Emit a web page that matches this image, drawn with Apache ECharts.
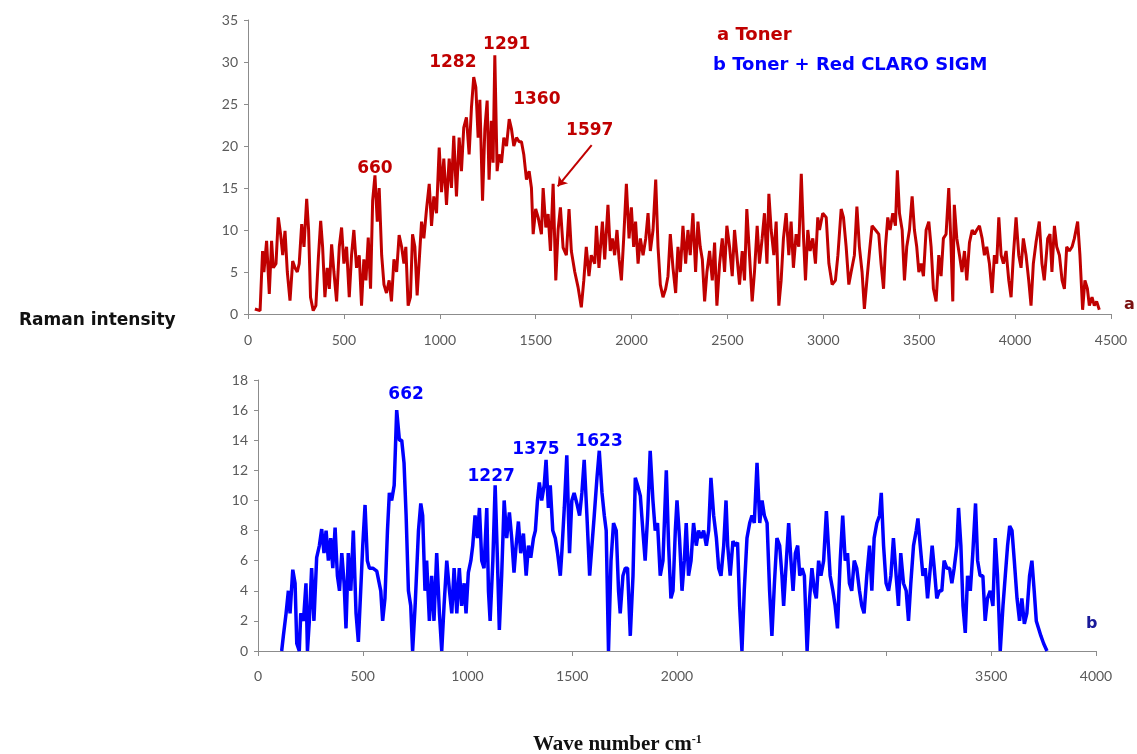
<!DOCTYPE html>
<html>
<head>
<meta charset="utf-8">
<script src="https://cdn.jsdelivr.net/npm/echarts@6/dist/echarts.min.js"></script>
<style>
  html, body { margin: 0; padding: 0; background: #fff; }
  #chart { width: 1137px; height: 754px; }
</style>
</head>
<body>
<div id="chart"></div>
<script>
// spectrum a (Toner)
const redX = [36, 63, 76, 83, 97, 111, 123, 132, 146, 158, 170, 181, 193, 205, 219, 233, 245, 257, 267, 280, 292, 306, 316, 326, 340, 354, 367, 379, 389, 401, 413, 424, 436, 448, 462, 476, 488, 500, 514, 528, 540, 552, 566, 580, 592, 604, 615, 627, 639, 650, 662, 674, 684, 697, 709, 722, 736, 748, 761, 775, 788, 801, 813, 823, 835, 847, 858, 870, 882, 905, 917, 931, 945, 957, 969, 983, 997, 1009, 1021, 1035, 1049, 1061, 1073, 1087, 1101, 1113, 1125, 1139, 1153, 1165, 1177, 1188, 1200, 1209, 1223, 1235, 1247, 1257, 1269, 1278, 1287, 1299, 1309, 1322, 1334, 1348, 1362, 1374, 1386, 1400, 1414, 1426, 1438, 1452, 1466, 1478, 1487, 1500, 1513,
  1530, 1539, 1553, 1565, 1577, 1591, 1605, 1617, 1629, 1643, 1660, 1674, 1686, 1704, 1721, 1738, 1751, 1764, 1778, 1790, 1808, 1817, 1830, 1848, 1860, 1877, 1889, 1900, 1912, 1924, 1935, 1947, 1959, 1973, 1987, 1999, 2011, 2021, 2034, 2046, 2060, 2074, 2086, 2098, 2112, 2126, 2138, 2150, 2164, 2178, 2190, 2202, 2216, 2230, 2242, 2254, 2268, 2282, 2294, 2306, 2320, 2334, 2346, 2358, 2369, 2381, 2393, 2407, 2421, 2433, 2445, 2459, 2473, 2485, 2497, 2511, 2525, 2537, 2549, 2563, 2577, 2589, 2601, 2615, 2629, 2641, 2655, 2667, 2681, 2693, 2706, 2716, 2728, 2742, 2754, 2768, 2780, 2792, 2806, 2820, 2832, 2844, 2858, 2872, 2885, 2897, 2907, 2919, 2931, 2945, 2959, 2971,
  2980, 2997, 3015, 3029, 3046, 3063, 3076, 3093, 3105, 3119, 3133, 3145, 3162, 3175, 3188, 3202, 3214, 3227, 3241, 3254, 3272, 3289, 3301, 3314, 3324, 3336, 3348, 3362, 3376, 3386, 3397, 3411, 3423, 3435, 3449, 3463, 3475, 3487, 3498, 3510, 3522, 3536, 3550, 3562, 3574, 3588, 3602, 3614, 3626, 3640, 3654, 3666, 3675, 3683, 3696, 3710, 3723, 3736, 3748, 3762, 3776, 3788, 3800, 3814, 3828, 3840, 3852, 3866, 3880, 3892, 3904, 3915, 3927, 3939, 3953, 3967, 3979, 3991, 4005, 4019, 4031, 4043, 4057, 4071, 4083, 4095, 4109, 4126, 4140, 4152, 4170, 4182, 4192, 4205, 4217, 4231, 4245, 4257, 4269, 4283, 4297, 4309, 4326, 4338, 4352, 4364, 4377, 4387, 4401, 4413, 4425, 4439];
const redY = [0.6, 0.4, 7.5, 5, 8.7, 2.4, 8.7, 5.5, 6, 11.5, 9.5, 7, 9.9, 5, 1.6, 6.3, 5.5, 5, 6, 10.7, 8, 13.7, 10, 2, 0.4, 1, 6.7, 11.1, 8, 2, 5.5, 3, 8.3, 5, 1.5, 8, 10.3, 6, 8, 2, 7, 10, 5.5, 7, 1, 6.5, 4, 9.1, 3, 13.5, 16.5, 11, 15, 7, 3.5, 2.5, 4, 1.5, 6.5, 5, 9.4, 8, 6, 8, 1, 2, 9.5, 8, 2.2, 11, 9, 12.5, 15.5, 10.5, 14, 12, 19.8, 14.5, 18.5, 13, 18.5, 15, 21.2, 14, 21, 17, 22.2, 23.4, 19, 24.5, 28.2, 27, 21, 25.5, 13.5, 22, 25.4, 16, 23, 18, 30.8, 17, 19, 18, 21, 20, 23.2, 22, 20, 21, 20.5, 20.5, 19, 16, 17, 15, 9.5, 12.5, 11.5,
  9.5, 15, 10.3, 11.9, 7.5, 15.5, 4, 10, 12.7, 7.9, 7, 12.5, 7.5, 5, 3.2, 0.8, 4, 8, 4.5, 7, 6, 10.5, 5.5, 11, 6.5, 13, 7.5, 9, 7, 10, 6.5, 4, 9, 15.5, 9, 12.7, 8, 11, 6, 9, 7, 9, 12, 7.5, 10, 16, 8, 3.5, 2, 3, 4.5, 9.5, 5.5, 2.5, 8, 5, 10.5, 6, 10, 7, 12, 5, 11, 8, 6.5, 1.5, 5, 7.5, 4, 8.5, 1, 6, 9, 5, 10.5, 8, 4.5, 10, 7, 3.5, 7.5, 4, 12.5, 7, 1.5, 5, 10.5, 6, 9, 12, 6, 14.3, 10, 7, 11, 1, 4, 9, 12, 7, 11, 5.5, 9.5, 8, 16.7, 9, 4, 10, 7.5, 9, 6, 11.5,
  10, 12, 11.5, 6, 3.5, 4, 7, 12.5, 11.5, 8, 3.5, 5, 7, 12.8, 8, 5, 0.6, 4, 7.5, 10.5, 10, 9.5, 6, 3, 8, 11.5, 10, 12, 10.5, 17.1, 12, 10, 4, 8, 10, 14, 10, 8, 5, 6, 4.5, 10, 11, 8, 3, 1.5, 7, 4.5, 9, 9.5, 15, 8, 1.5, 13, 9, 7, 5, 7.5, 4, 8.5, 10, 9.5, 10, 10.5, 9, 7, 8, 6, 2.5, 7, 6, 11.5, 7, 6, 7.5, 4, 2, 7, 11.5, 7, 5.5, 9, 7, 4, 1, 6, 8.5, 11, 6, 4, 9, 9.5, 5, 10.5, 8, 7, 4, 3, 8, 7.5, 8, 9, 11, 7, 0.5, 4, 3, 1, 2, 1, 1.5, 0.5];

// spectrum b (Toner + Red CLARO SIGM)
const blueX = [113, 121, 134, 145, 153, 166, 177, 185, 197, 204, 217, 229, 236, 245, 256, 267, 280, 293, 304, 315, 325, 336, 347, 357, 368, 379, 389, 400, 411, 420, 431, 443, 455, 468, 479, 500, 511, 522, 532, 548, 567, 586, 595, 606, 618, 627, 638, 650, 662, 675, 686, 697, 707, 718, 729, 738, 750, 766, 777, 786, 797, 805, 818, 829, 840, 853, 866, 877, 888, 901, 914, 925, 936, 949, 961, 972, 984, 993, 1004, 1016, 1025, 1036, 1047, 1057, 1068, 1079, 1092, 1100, 1108, 1121, 1132, 1143, 1152, 1163, 1175, 1187, 1200, 1211, 1222, 1232, 1243, 1254, 1267, 1280, 1291, 1302, 1315, 1324, 1334, 1343, 1354, 1366, 1375, 1386,
  1395, 1407, 1419, 1430, 1443, 1450, 1462, 1474, 1487, 1498, 1509, 1522, 1535, 1546, 1557, 1570, 1583, 1594, 1605, 1618, 1629, 1642, 1653, 1662, 1673, 1685, 1697, 1710, 1721, 1729, 1742, 1753, 1764, 1777, 1790, 1801, 1812, 1825, 1837, 1848, 1860, 1872, 1885, 1896, 1907, 1920, 1933, 1949, 1960, 1971, 1981, 1992, 2000, 2012, 2024, 2035, 2044, 2055, 2067, 2079, 2092, 2103, 2114, 2127, 2140, 2151, 2162, 2175, 2188, 2199, 2210, 2223, 2234, 2242, 2254, 2267, 2278, 2289, 2299, 2310, 2321, 2334, 2347, 2358, 2369, 2382, 2395, 2406, 2417, 2430, 2442, 2453, 2465, 2477, 2490, 2501, 2509, 2522, 2533, 2544, 2554, 2565, 2576, 2586, 2597, 2608, 2621, 2633, 2644, 2656, 2665, 2676, 2687, 2700, 2713,
  2731, 2744, 2755, 2766, 2779, 2791, 2803, 2814, 2823, 2834, 2846, 2858, 2871, 2882, 2893, 2906, 2919, 2930, 2941, 2954, 2967, 2975, 2986, 2998, 3010, 3021, 3033, 3046, 3057, 3068, 3081, 3094, 3105, 3116, 3129, 3142, 3150, 3161, 3174, 3185, 3196, 3209, 3218, 3228, 3240, 3253, 3264, 3275, 3288, 3301, 3312, 3323, 3336, 3344, 3355, 3365, 3376, 3387, 3400, 3412, 3425, 3435, 3447, 3460, 3471, 3482, 3495, 3508, 3519, 3530, 3543, 3556, 3567, 3578, 3588, 3599, 3610, 3623, 3635, 3646, 3658, 3670, 3683, 3694, 3705, 3715, 3726, 3737, 3750, 3766];
const blueY = [0, 1, 2.5, 4, 2.5, 5.4, 4.5, 0.5, 0, 2.5, 2, 4.5, 0, 2, 5.5, 2, 6.2, 7, 8.1, 6.5, 8, 6, 7.5, 5.5, 8.2, 5, 4, 6.5, 4.5, 1.5, 6.5, 4, 8, 2.5, 0.6, 7, 9.7, 6, 5.5, 5.5, 5.3, 4, 2, 3.5, 8, 10.5, 10, 11, 16, 14, 14, 12.5, 9, 4, 3, 0, 3, 8, 9.8, 9, 4, 6, 2, 5, 2, 6.5, 2.5, 0, 3, 6, 4, 2.5, 5.5, 2.5, 5.5, 3, 4.5, 2.5, 5.2, 6, 7, 9, 7.5, 9.5, 6, 5.5, 9.5, 4, 2, 6, 11, 6, 1.4, 5, 10, 7.5, 9.2, 7.5, 5.2, 7, 8.6, 6.5, 7.8, 5, 7, 6.2, 7.5, 8, 10, 11.2, 10, 11, 12.7, 9.5,
  11, 8, 7.5, 6.5, 5, 6.5, 9.5, 13, 6.5, 10, 10.5, 9.8, 9, 10.5, 12.7, 9, 5, 7, 9, 11.5, 13.3, 10.5, 9, 8, 0, 6, 8.5, 8, 4, 2.5, 5, 5.5, 5.5, 1, 5, 11.5, 11, 10.3, 8, 6, 9, 13.3, 10, 8, 8.5, 5, 6, 12, 7, 3.5, 4, 8, 10, 7.5, 4, 6, 8.5, 5, 6, 8.5, 7, 8, 7.5, 8, 7, 8, 11.5, 9, 7.5, 5.5, 5, 7, 10, 7, 5, 7.3, 7, 7.2, 3, 0, 4, 7.5, 8.5, 9, 8.5, 12.5, 8.5, 10, 9, 8.5, 4, 1, 4.5, 7.5, 7, 5, 3, 6, 8.5, 6, 4, 6.5, 7, 5, 5.5, 5, 0, 3.5, 5.5, 4, 3.5, 6, 5, 6, 9.3,
  5, 4, 3, 1.5, 6, 9, 6, 6.5, 4.5, 4, 6, 5.5, 4, 3, 2.5, 5, 7, 4, 7.5, 8.5, 9, 10.5, 7, 4.5, 4, 5, 7.5, 5, 3, 6.5, 4.5, 4, 2, 4.5, 7, 8, 8.8, 7, 5, 5.5, 3.5, 5.5, 7, 5.5, 3.5, 4, 4, 6, 5.5, 5.5, 4.5, 5.5, 7, 9.5, 7, 3, 1.2, 5, 4, 6.5, 9.8, 6, 5, 5, 2, 3.5, 4, 3, 7.5, 5, 0, 3, 5, 7, 8.3, 8, 6, 3.5, 2, 3.5, 1.8, 2.5, 5, 6, 4, 2, 1.5, 1, 0.5, 0];

// peak labels [text, x, y] placed in data space
const redPeaks = [["660", 662, 17.3], ["1282", 1068, 29.9], ["1291", 1349, 32.1], ["1360", 1506, 25.5], ["1597", 1782, 21.8]];
const bluePeaks = [["662", 707, 17.05], ["1227", 1113, 11.6], ["1375", 1327, 13.4], ["1623", 1628, 13.9]];
const arrow1597 = [[1792, 20.1], [1615, 15.2]];

const hiddenBottomTicks = [2500, 3000];

const RED = "#c00000";
const BLUE = "#0000ff";

function pairs(xs, ys) {
  let out = [];
  for (let i = 0; i < xs.length; i++) {
    out.push([xs[i], ys[i]]);
  }
  return out;
}

function peakMarks(peaks, color) {
  return {
    symbol: "circle",
    symbolSize: 1,
    itemStyle: { color: "rgba(0,0,0,0)" },
    label: {
      show: true,
      position: "inside",
      color: color,
      fontFamily: "DejaVu Sans",
      fontWeight: "bold",
      fontSize: 17,
      formatter: "{b}"
    },
    data: peaks.map(p => ({ name: p[0], coord: [p[1], p[2]] }))
  };
}

const axisLabelStyle = {
  color: "#5a5a5a",
  fontFamily: "Lato",
  fontSize: 14,
  formatter: function(v) { return String(v); }
};
const axisLineStyle = { lineStyle: { color: "#8c8c8c", width: 1 } };

var myChart = echarts.init(document.getElementById("chart"), null, { renderer: "canvas" });

let option = {
  animation: false,
  backgroundColor: "#ffffff",
  title: [
    {
      text: "a Toner",
      left: 712, top: 21,
      textStyle: { color: RED, fontFamily: "DejaVu Sans", fontWeight: "bold", fontSize: 18 }
    },
    {
      text: "b Toner + Red CLARO SIGM",
      left: 708, top: 51,
      textStyle: { color: BLUE, fontFamily: "DejaVu Sans", fontWeight: "bold", fontSize: 18 }
    },
    {
      text: "Raman intensity",
      left: 14, top: 307,
      textStyle: { color: "#111", fontFamily: "DejaVu Sans", fontWeight: "bold", fontSize: 17 }
    },
    {
      text: "a",
      left: 1119, top: 292,
      textStyle: { color: "#7a1010", fontFamily: "DejaVu Sans", fontWeight: "bold", fontSize: 16 }
    },
    {
      text: "b",
      left: 1081, top: 611,
      textStyle: { color: "#1a1a9a", fontFamily: "DejaVu Sans", fontWeight: "bold", fontSize: 16 }
    },
    {
      text: "Wave number cm{sup|-1}",
      left: 528, top: 729,
      textStyle: {
        color: "#111", fontFamily: "Liberation Serif", fontWeight: "bold", fontSize: 21,
        rich: {
          sup: { fontFamily: "Liberation Serif", fontWeight: "bold", fontSize: 12, color: "#111", verticalAlign: "top", padding: [0, 0, 10, 0] }
        }
      }
    }
  ],
  grid: [
    { left: 248, top: 20, width: 863, height: 294 },
    { left: 258, top: 380, width: 838, height: 271 }
  ],
  xAxis: [
    {
      gridIndex: 0, type: "value", min: 0, max: 4500, interval: 500,
      splitLine: { show: false },
      axisLine: axisLineStyle,
      axisTick: { show: true, length: 5, lineStyle: { color: "#8c8c8c" } },
      axisLabel: Object.assign({}, axisLabelStyle, { margin: 19 })
    },
    {
      gridIndex: 1, type: "value", min: 0, max: 4000, interval: 500,
      splitLine: { show: false },
      axisLine: axisLineStyle,
      axisTick: { show: true, length: 5, lineStyle: { color: "#8c8c8c" } },
      axisLabel: Object.assign({}, axisLabelStyle, {
        margin: 18,
        formatter: function(v) {
          return hiddenBottomTicks.indexOf(v) >= 0 ? "" : String(v);
        }
      })
    }
  ],
  yAxis: [
    {
      gridIndex: 0, type: "value", min: 0, max: 35, interval: 5,
      splitLine: { show: false },
      axisLine: Object.assign({ show: true }, axisLineStyle),
      axisTick: { show: true, length: 4, lineStyle: { color: "#8c8c8c" } },
      axisLabel: Object.assign({}, axisLabelStyle, { margin: 10 })
    },
    {
      gridIndex: 1, type: "value", min: 0, max: 18, interval: 2,
      splitLine: { show: false },
      axisLine: Object.assign({ show: true }, axisLineStyle),
      axisTick: { show: true, length: 4, lineStyle: { color: "#8c8c8c" } },
      axisLabel: Object.assign({}, axisLabelStyle, { margin: 10 })
    }
  ],
  series: [
    {
      name: "a Toner",
      type: "line",
      xAxisIndex: 0, yAxisIndex: 0,
      symbol: "none",
      lineStyle: { color: RED, width: 3 },
      itemStyle: { color: RED },
      data: pairs(redX, redY),
      markPoint: peakMarks(redPeaks, RED),
      markLine: {
        silent: true,
        symbol: ["none", "arrow"],
        symbolSize: 9,
        label: { show: false },
        lineStyle: { color: RED, width: 2, type: "solid" },
        data: [[{ coord: arrow1597[0] }, { coord: arrow1597[1] }]]
      }
    },
    {
      name: "b Toner + Red CLARO SIGM",
      type: "line",
      xAxisIndex: 1, yAxisIndex: 1,
      symbol: "none",
      lineStyle: { color: BLUE, width: 3.5 },
      itemStyle: { color: BLUE },
      data: pairs(blueX, blueY),
      markPoint: peakMarks(bluePeaks, BLUE)
    }
  ]
};
myChart.setOption(option);
</script>
</body>
</html>
